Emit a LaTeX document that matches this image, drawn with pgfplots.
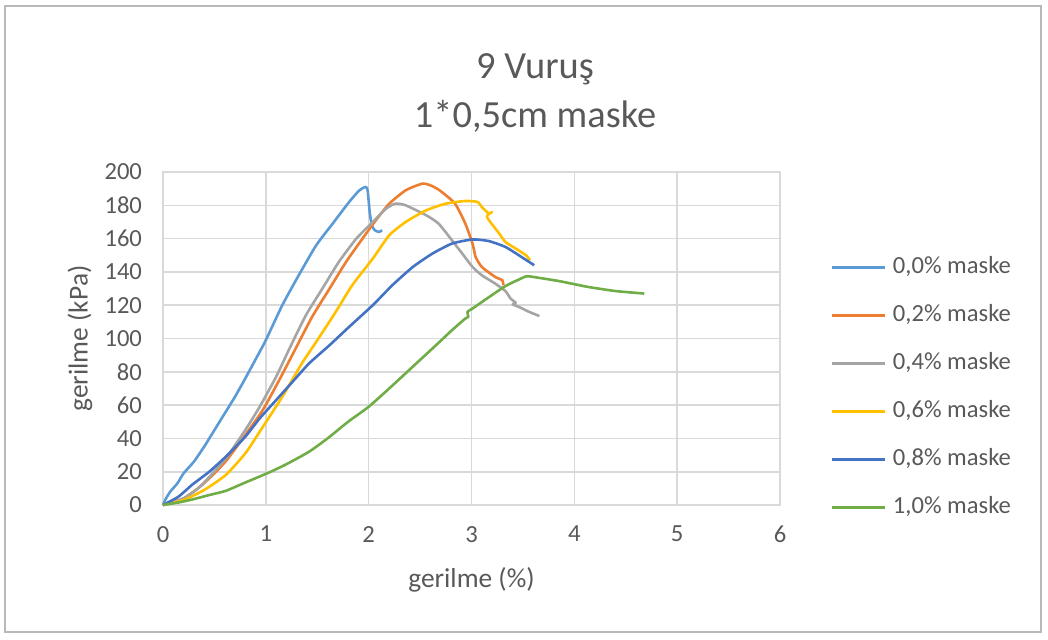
\documentclass[border=0pt]{standalone}
\usepackage{fontspec}
\setmainfont{Carlito}
\usepackage{pgfplots}
\pgfplotsset{compat=1.18}

\definecolor{s00}{HTML}{5B9BD5}
\definecolor{s02}{HTML}{ED7D31}
\definecolor{s04}{HTML}{A5A5A5}
\definecolor{s06}{HTML}{FFC000}
\definecolor{s08}{HTML}{4472C4}
\definecolor{s10}{HTML}{70AD47}
\definecolor{txt}{HTML}{595959}
\definecolor{grd}{HTML}{D9D9D9}

\begin{document}
\begin{tikzpicture}
\useasboundingbox (0,0) rectangle (524pt,319.5pt);
% chart frame
\draw[gray!55, line width=1pt] (2.5pt,3.5pt) rectangle (520.5pt,316.5pt);

\node[font=\fontsize{19.2}{24.5}\selectfont, text=txt, align=center]
  at (267.5pt,273pt) {9 Vuruş\\1*0,5cm maske};

\begin{axis}[
  at={(81.5pt,67pt)}, anchor=south west,
  scale only axis, width=308.5pt, height=166.5pt,
  xmin=0, xmax=6, ymin=0, ymax=200,
  xtick={0,1,2,3,4,5,6}, ytick={0,20,...,200},
  grid=major, grid style={grd, line width=0.8pt},
  axis line style={grd, line width=0.8pt},
  major tick length=0pt,
  tick label style={font=\fontsize{12.3}{14}\selectfont, text=txt},
  /pgf/number format/assume math mode=true,
  xticklabel style={yshift=-7pt},
  yticklabel style={xshift=-7pt},
  xlabel={gerilme (\%)}, ylabel={gerilme (kPa)},
  label style={font=\fontsize{13.7}{16}\selectfont, text=txt},
  xlabel style={at={(axis description cs:0.5,-0.225)}, anchor=center},
  ylabel style={at={(axis description cs:-0.1345,0.5)}, anchor=center},
  clip=false,
  every axis plot/.append style={line width=1.3pt, line join=round, smooth, tension=0.35},
  legend style={at={(axis description cs:1.081,0.75)}, anchor=north west,
    draw=none, fill=none, inner sep=0pt, row sep=12pt,
    font=\fontsize{12.3}{14}\selectfont, text=txt,
    nodes={inner sep=0pt, text height=9pt, text depth=3pt}},
  legend cell align=left,
  legend image code/.code={\draw[#1, line width=1.3pt, sharp plot] (0pt,0pt) -- (26.5pt,0pt); \path (30pt,0pt);},
]

\addplot[s00] coordinates {
 (0,0) (0.03,4) (0.07,8) (0.14,13) (0.2,19) (0.3,26) (0.4,35) (0.5,45)
 (0.6,55) (0.7,65) (0.8,76) (0.94,92) (1.0,99) (1.16,120) (1.32,138)
 (1.49,156) (1.65,169) (1.81,182) (1.91,189) (1.97,191) (1.99,189)
 (2.01,176) (2.03,168) (2.06,165) (2.1,164) (2.13,165)};
\addlegendentry{0,0\% maske}

\addplot[s02] coordinates {
 (0,0) (0.2,4) (0.36,11) (0.5,19) (0.62,27) (0.8,42) (0.97,57) (1.13,75)
 (1.29,94) (1.45,113) (1.62,130) (1.78,146) (1.94,160) (2.07,171) (2.2,181)
 (2.36,189) (2.52,193) (2.6,192) (2.69,189) (2.84,181) (2.94,169)
 (3.01,157) (3.04,149) (3.10,143) (3.23,137) (3.30,135) (3.31,132)};
\addlegendentry{0,2\% maske}

\addplot[s04] coordinates {
 (0,0) (0.2,4) (0.36,11) (0.61,28) (0.8,45) (0.94,59) (1.1,77) (1.23,94)
 (1.39,114) (1.55,130) (1.71,146) (1.88,160) (2.04,170) (2.17,178)
 (2.26,181) (2.36,180) (2.56,174) (2.68,169) (2.81,159) (2.91,151)
 (3.01,143) (3.10,138) (3.23,133) (3.33,128.5) (3.38,124) (3.43,121.5)
 (3.40,120.5) (3.46,119) (3.56,116) (3.66,113.5)};
\addlegendentry{0,4\% maske}

\addplot[s06] coordinates {
 (0,0) (0.2,3) (0.4,9) (0.61,18) (0.8,31) (0.94,44) (1.16,65) (1.35,85)
 (1.49,98) (1.68,116) (1.84,132) (2.04,148) (2.2,162) (2.36,170)
 (2.56,177) (2.75,181) (2.94,182.6) (3.06,182) (3.10,179) (3.17,175)
 (3.20,176) (3.15,173) (3.27,163) (3.33,158) (3.43,154) (3.53,150)
 (3.57,147)};
\addlegendentry{0,6\% maske}

\addplot[s08] coordinates {
 (0,0) (0.15,5) (0.29,12.5) (0.45,20) (0.61,29) (0.8,41) (0.94,52)
 (1.1,63) (1.26,74) (1.42,85) (1.62,96) (1.81,107) (2.04,120) (2.23,132)
 (2.43,143) (2.62,151) (2.81,157) (3.01,159.5) (3.17,158.5) (3.33,155)
 (3.46,150) (3.61,144)};
\addlegendentry{0,8\% maske}

\addplot[s10] coordinates {
 (0,0) (0.15,1.5) (0.29,3.4) (0.45,6) (0.61,8.5) (0.8,13.5) (1.03,19.5)
 (1.2,24.5) (1.42,32) (1.6,40) (1.8,50) (2.0,59) (2.2,70) (2.48,86)
 (2.69,98) (2.81,105) (2.94,112) (2.97,113) (2.96,116) (3.01,118)
 (3.14,123.6) (3.33,131.5) (3.46,135.4) (3.54,137.4) (3.66,136.4)
 (3.85,134.5) (4.05,132) (4.13,131) (4.4,128.5) (4.68,127)};
\addlegendentry{1,0\% maske}

\end{axis}
\end{tikzpicture}
\end{document}
